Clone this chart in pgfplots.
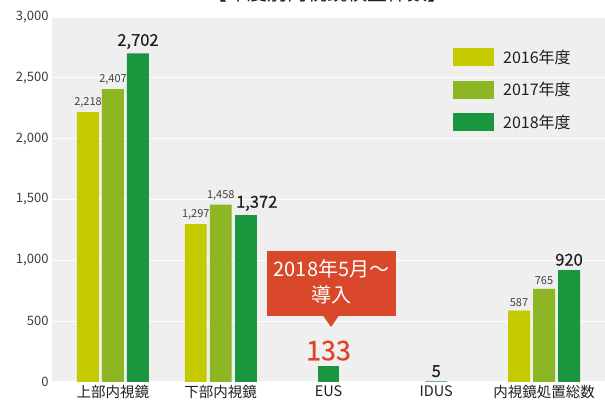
\documentclass[border=0pt]{standalone}
\usepackage{fontspec}
\setmainfont{Noto Sans CJK JP}
\usepackage{pgfplots}
\pgfplotsset{compat=1.18}
\definecolor{c16}{RGB}{197,201,0}
\definecolor{c17}{RGB}{141,182,36}
\definecolor{c18}{RGB}{26,150,62}
\definecolor{bg}{RGB}{239,239,239}
\definecolor{txt}{RGB}{35,30,30}
\definecolor{tick}{RGB}{60,60,60}
\definecolor{lbl}{RGB}{70,65,65}
\definecolor{callred}{RGB}{217,72,43}
\definecolor{numred}{RGB}{222,70,42}
\tikzset{biglbl/.style={font=\fontsize{16.5}{18}\selectfont\addfontfeature{FakeBold=0.4}, text=txt, inner sep=0pt, yshift=4pt}}
\begin{document}
\begin{tikzpicture}[x=1pt,y=1pt]
\useasboundingbox (0,0) rectangle (605,406);
\fill[white] (0,0) rectangle (605,406);
\begin{axis}[
  at={(52pt,24pt)}, anchor=south west, scale only axis,
  width=553pt, height=365pt,
  xmin=-0.566, xmax=4.566, ymin=0, ymax=3000,
  axis background/.style={fill=bg},
  axis line style={draw=none},
  ytick={0,500,...,3000}, ymajorgrids,
  grid style={white, line width=1.3pt},
  major tick length=0pt,
  xtick={0,1,2,3,4},
  xticklabels={上部内視鏡,下部内視鏡,EUS,IDUS,内視鏡処置総数},
  xticklabel style={font=\fontsize{14.5}{16}\selectfont, text=txt},
  yticklabel style={font=\fontsize{13}{15}\selectfont, text=tick},
  /pgf/number format/.cd, 1000 sep={,}, assume math mode=true, /pgfplots/.cd,
  legend image code/.code={\fill[#1] (0pt,-9pt) rectangle (41pt,9pt);},
  legend style={at={(0.725,0.915)}, anchor=north west, draw=none, fill=none,
    inner sep=0pt, row sep=14.5pt, font=\fontsize{16}{18}\selectfont, text=txt,
    nodes={inner sep=0pt},
    /tikz/every odd column/.append style={column sep=9pt}},
  legend cell align=left,
]
\addplot[ybar, bar width=0.204, bar shift=0pt, fill=c16, draw=none,
  nodes near coords, every node near coord/.style={font=\fontsize{11}{12}\selectfont, text=lbl, inner sep=0pt, yshift=4pt}]
  coordinates {(-0.232,2218) (0.768,1297) (3.768,587)};
\addlegendentry{2016年度}
\addplot[ybar, bar width=0.204, bar shift=0pt, fill=c17, draw=none,
  nodes near coords, every node near coord/.style={font=\fontsize{11}{12}\selectfont, text=lbl, inner sep=0pt, yshift=4pt}]
  coordinates {(0,2407) (1,1458) (4,765)};
\addlegendentry{2017年度}
\addplot[ybar, bar width=0.204, bar shift=0pt, fill=c18, draw=none,
  nodes near coords, every node near coord/.style={biglbl}]
  coordinates {(0.232,2702) (3,5) (4.232,920)};
\addlegendentry{2018年度}
\addplot[ybar, bar width=0.204, bar shift=0pt, fill=c18, draw=none, forget plot,
  nodes near coords, every node near coord/.style={biglbl, xshift=11pt}]
  coordinates {(1.232,1372)};
\addplot[ybar, bar width=0.204, bar shift=0pt, fill=c18, draw=none, forget plot,
  nodes near coords, every node near coord/.style={font=\fontsize{27}{30}\selectfont\addfontfeature{FakeBold=0.5}, text=numred, inner sep=0pt, yshift=5pt}]
  coordinates {(2,133)};
\end{axis}
\fill[callred] (267,155) rectangle (396,90);
\fill[callred] (323,90.5) -- (339,90.5) -- (331,79) -- cycle;
\node[text=white, font=\fontsize{20}{22}\selectfont] at (331.5,137) {2018年5月～};
\node[text=white, font=\fontsize{20}{22}\selectfont] at (331.5,111) {導入};
\node[anchor=base, font=\fontsize{20}{22}\selectfont, text=txt] at (327,405.5) {【年度別内視鏡検査件数】};
\end{tikzpicture}
\end{document}
